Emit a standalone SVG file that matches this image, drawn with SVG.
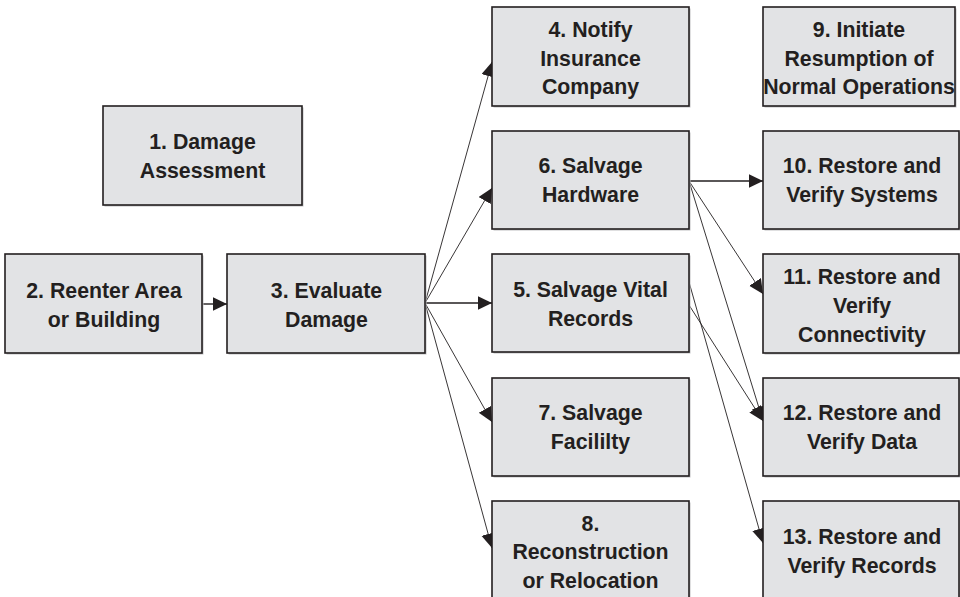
<svg xmlns="http://www.w3.org/2000/svg" width="960" height="597" viewBox="0 0 960 597">
  <style>
    .box { fill: #e2e3e5; stroke: #231f20; stroke-width: 1.6; }
    .shadow { fill: #bfc0c2; }
    .label { font-family: "Liberation Sans", Arial, sans-serif; font-weight: bold; font-size: 21.3px; fill: #231f20; text-anchor: middle; }
    .link { fill: none; stroke: #231f20; stroke-width: 0.9; marker-end: url(#arrow); }
    .link.straight { stroke-width: 1.4; }
  </style>
  <defs>
    <marker id="arrow" markerUnits="userSpaceOnUse" markerWidth="16" markerHeight="15" refX="14.5" refY="7" orient="auto">
      <path d="M0,0 L14.5,7 L0,14 Z" fill="#231f20"/>
    </marker>
  </defs>

  <rect width="960" height="597" fill="#ffffff"/>

  <!-- connectors -->
  <g id="connectors">
    <line class="link straight" x1="202" y1="304" x2="227" y2="304"/>
    <line class="link" x1="425" y1="303" x2="492" y2="62"/>
    <line class="link" x1="425" y1="303" x2="492" y2="188"/>
    <line class="link straight" x1="425" y1="303" x2="492" y2="303"/>
    <line class="link" x1="425" y1="303" x2="492" y2="422"/>
    <line class="link" x1="425" y1="303" x2="492" y2="548"/>
    <line class="link straight" x1="689" y1="181" x2="763" y2="181"/>
    <line class="link" x1="689" y1="181" x2="763" y2="294"/>
    <line class="link" x1="689" y1="181" x2="763" y2="421"/>
    <line class="link" x1="689" y1="305" x2="763" y2="421"/>
    <line class="link" x1="689" y1="282" x2="763" y2="543"/>
  </g>

  <!-- nodes -->
  <g id="node1">
    <rect class="shadow" x="104.5" y="107.5" width="199" height="99"/>
    <rect class="box" x="103" y="106" width="199" height="99"/>
    <text class="label"><tspan x="202.5" y="148.5">1. Damage</tspan><tspan x="202.5" y="177.5">Assessment</tspan></text>
  </g>
  <g id="node2">
    <rect class="shadow" x="6.5" y="255.5" width="197" height="99"/>
    <rect class="box" x="5" y="254" width="197" height="99"/>
    <text class="label"><tspan x="104" y="297.5">2. Reenter Area</tspan><tspan x="104" y="326.5">or Building</tspan></text>
  </g>
  <g id="node3">
    <rect class="shadow" x="228.5" y="255.5" width="198" height="99"/>
    <rect class="box" x="227" y="254" width="198" height="99"/>
    <text class="label"><tspan x="326.5" y="297.5">3. Evaluate</tspan><tspan x="326.5" y="326.5">Damage</tspan></text>
  </g>
  <g id="node4">
    <rect class="shadow" x="493.5" y="8.5" width="197" height="99"/>
    <rect class="box" x="492" y="7" width="197" height="99"/>
    <text class="label"><tspan x="590.5" y="37">4. Notify</tspan><tspan x="590.5" y="65.5">Insurance</tspan><tspan x="590.5" y="94">Company</tspan></text>
  </g>
  <g id="node6">
    <rect class="shadow" x="493.5" y="132.5" width="197" height="98"/>
    <rect class="box" x="492" y="131" width="197" height="98"/>
    <text class="label"><tspan x="590.5" y="173">6. Salvage</tspan><tspan x="590.5" y="202">Hardware</tspan></text>
  </g>
  <g id="node5">
    <rect class="shadow" x="493.5" y="255.5" width="197" height="98"/>
    <rect class="box" x="492" y="254" width="197" height="98"/>
    <text class="label"><tspan x="590.5" y="296.5">5. Salvage Vital</tspan><tspan x="590.5" y="325.5">Records</tspan></text>
  </g>
  <g id="node7">
    <rect class="shadow" x="493.5" y="379.5" width="197" height="98"/>
    <rect class="box" x="492" y="378" width="197" height="98"/>
    <text class="label"><tspan x="590.5" y="420">7. Salvage</tspan><tspan x="590.5" y="449">Facililty</tspan></text>
  </g>
  <g id="node8">
    <rect class="shadow" x="493.5" y="502.5" width="197" height="99"/>
    <rect class="box" x="492" y="501" width="197" height="99"/>
    <text class="label"><tspan x="590.5" y="530.5">8.</tspan><tspan x="590.5" y="559">Reconstruction</tspan><tspan x="590.5" y="587.5">or Relocation</tspan></text>
  </g>
  <g id="node9">
    <rect class="shadow" x="764.5" y="8.5" width="192" height="99"/>
    <rect class="box" x="763" y="7" width="192" height="99"/>
    <text class="label"><tspan x="859" y="37">9. Initiate</tspan><tspan x="859" y="65.5">Resumption of</tspan><tspan x="859" y="94">Normal Operations</tspan></text>
  </g>
  <g id="node10">
    <rect class="shadow" x="764.5" y="132.5" width="196" height="98"/>
    <rect class="box" x="763" y="131" width="196" height="98"/>
    <text class="label"><tspan x="862" y="173">10. Restore and</tspan><tspan x="862" y="202">Verify Systems</tspan></text>
  </g>
  <g id="node11">
    <rect class="shadow" x="764.5" y="255.5" width="196" height="99"/>
    <rect class="box" x="763" y="254" width="196" height="99"/>
    <text class="label"><tspan x="862" y="283.5">11. Restore and</tspan><tspan x="862" y="312.5">Verify</tspan><tspan x="862" y="341.5">Connectivity</tspan></text>
  </g>
  <g id="node12">
    <rect class="shadow" x="764.5" y="379.5" width="196" height="98"/>
    <rect class="box" x="763" y="378" width="196" height="98"/>
    <text class="label"><tspan x="862" y="420">12. Restore and</tspan><tspan x="862" y="449">Verify Data</tspan></text>
  </g>
  <g id="node13">
    <rect class="shadow" x="764.5" y="502.5" width="196" height="99"/>
    <rect class="box" x="763" y="501" width="196" height="99"/>
    <text class="label"><tspan x="862" y="543.5">13. Restore and</tspan><tspan x="862" y="572.5">Verify Records</tspan></text>
  </g>
</svg>
